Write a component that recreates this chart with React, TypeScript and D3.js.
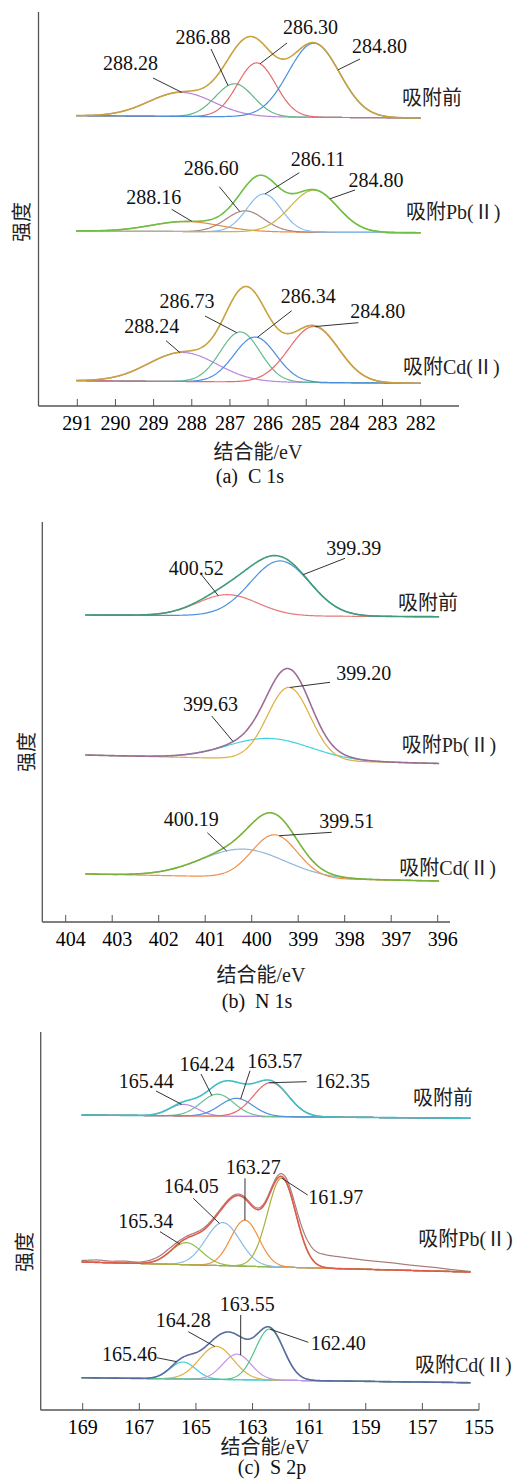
import React from 'react';
import * as d3 from 'd3';

// tick labels (binding energy, eV)
const c1sTicks = [291, 290, 289, 288, 287, 286, 285, 284, 283, 282];
const n1sTicks = [404, 403, 402, 401, 400, 399, 398, 397, 396];
const s2pTicks = [169, 167, 165, 163, 161, 159, 157, 155];

const sampleNames = ['吸附前', '吸附Pb(Ⅱ)', '吸附Cd(Ⅱ)'];

// fitted peaks: [center eV, height, sigma eV]
const c1sBefore = [[288.28, 24, 0.85], [286.88, 33, 0.5], [286.30, 54, 0.5], [284.80, 74, 0.67]];
const c1sPb = [[288.16, 10, 0.9], [286.60, 21, 0.5], [286.11, 38, 0.45], [284.80, 42, 0.62]];
const c1sCd = [[288.24, 29, 0.9], [286.73, 50, 0.52], [286.34, 45, 0.55], [284.80, 56, 0.65]];

const n1sBefore = [[400.52, 21, 0.65], [399.39, 55, 0.64]];
const n1sPb = [[399.63, 21, 0.9], [399.20, 72.5, 0.46]];
const n1sCd = [[400.19, 28, 0.9], [399.51, 43, 0.49]];

const s2pBefore = [[165.44, 11.5, 0.5], [164.24, 22, 0.58], [163.57, 18, 0.58], [162.35, 34, 0.62]];
const s2pPb = [[165.34, 22, 0.55], [164.05, 43, 0.6], [163.27, 46, 0.5], [161.97, 89, 0.5]];
const s2pCd = [[165.46, 17, 0.45], [164.28, 33, 0.6], [163.55, 25.5, 0.5], [162.40, 51, 0.5]];

// measured S 2p (Pb) signal above the fit: [eV, extra]
const s2pPbResidual = [
  [169.05, 1.5], [168.5, 2.5], [168, 1.5], [167.5, 2], [167, 1], [166.5, 2.5], [166, 3.5],
  [165.5, 2], [165, 2], [164, 1.5], [163, 1.5], [162.3, 2], [161.9, 3], [161.5, 6],
  [161, 11], [160.5, 13], [160, 12], [159.5, 10.5], [159, 9], [158.5, 8], [158, 7],
  [157.5, 5.5], [157, 4.5], [156.5, 3.5], [156, 2], [155.3, 0.5],
];

const FONT = "'Liberation Serif', 'Times New Roman', 'Noto Sans CJK SC', serif";

const gauss = (e: number, p: number[]) => p[1] * Math.exp(-0.5 * ((e - p[0]) / p[2]) ** 2);

const panels = [
  {
    ticks: c1sTicks, tickRange: [77.3, 420.7], scan: [291.03, 282.0],
    axisX: 38.5, axisTop: 12, axisBottom: 406, axisRight: 459, tickDx: 0,
    yTitle: [22, 222], xTitleY: 452, xTitleX: 258, caption: '(a)  C 1s', captionX: 250, captionY: 477,
    spectra: [
      {
        peaks: c1sBefore, offsets: [290.3, 288], colors: ['#b985d6', '#62b985', '#e66a6a', '#4b8fdc'], env: '#c8a23c',
        label: [402, 98],
        notes: [
          { text: '288.28', lx: 130.5, ly: 63, sx: 153, sy: 78, e: 288.26, on: 0 },
          { text: '286.88', lx: 203, ly: 37, sx: 211, sy: 49, e: 287.05, on: 1 },
          { text: '286.30', lx: 310.5, ly: 27, sx: 287, sy: 43, e: 286.21, on: 2 },
          { text: '284.80', lx: 379.5, ly: 46, sx: 360, sy: 59, e: 284.17, on: -1 },
        ],
      },
      {
        peaks: c1sPb, offsets: [175, 173.3], colors: ['#f08a3c', '#a98580', '#8bbce6', '#c8b548'], env: '#6cc045',
        label: [406, 212],
        notes: [
          { text: '288.16', lx: 153.8, ly: 197.3, sx: 171.7, sy: 209.3, e: 288.0, on: -1 },
          { text: '286.60', lx: 211.3, ly: 168.3, sx: 219.3, sy: 186.7, e: 286.74, on: 1 },
          { text: '286.11', lx: 318, ly: 159.3, sx: 299.3, sy: 172.7, e: 286.08, on: 2 },
          { text: '284.80', lx: 376, ly: 180.7, sx: 355, sy: 190, e: 284.38, on: -1 },
        ],
      },
      {
        peaks: c1sCd, offsets: [25.3, 22.7], colors: ['#b88ae0', '#62bd88', '#4b8fdc', '#e66a6a'], env: '#c8a23c',
        label: [403, 367],
        notes: [
          { text: '288.24', lx: 151.8, ly: 326.7, sx: 166, sy: 340.7, e: 288.31, on: 0 },
          { text: '286.73', lx: 187, ly: 301.7, sx: 205, sy: 316, e: 286.82, on: 1 },
          { text: '286.34', lx: 308.3, ly: 296.7, sx: 291.7, sy: 310.7, e: 286.28, on: 2 },
          { text: '284.80', lx: 377.8, ly: 311.7, sx: 358.3, sy: 322.7, e: 284.77, on: 3 },
        ],
      },
    ],
  },
  {
    ticks: n1sTicks, tickRange: [65.7, 437.7], scan: [403.58, 395.97],
    axisX: 42.3, axisTop: 522, axisBottom: 922, axisRight: 450, tickDx: 5,
    yTitle: [26.7, 752], xTitleY: 975, xTitleX: 261, caption: '(b)  N 1s', captionX: 257, captionY: 1002,
    spectra: [
      {
        peaks: n1sBefore, offsets: [307, 305.3], colors: ['#e87878', '#4b90e0'], env: '#3f9c78',
        label: [398, 603],
        notes: [
          { text: '400.52', lx: 196.3, ly: 568.3, sx: 201.7, sy: 575, e: 400.72, on: 0 },
          { text: '399.39', lx: 353.7, ly: 548.3, sx: 345, sy: 558.3, e: 398.89, on: -1 },
        ],
      },
      {
        peaks: n1sPb, offsets: [167, 158.5], colors: ['#40d4dc', '#dcb040'], env: '#9c6d98',
        label: [401.7, 745],
        notes: [
          { text: '399.63', lx: 210.5, ly: 704, sx: 211.7, sy: 716, e: 400.4, on: -1 },
          { text: '399.20', lx: 363.8, ly: 673.3, sx: 330, sy: 682.3, e: 399.18, on: 1 },
        ],
      },
      {
        peaks: n1sCd, offsets: [48, 41], colors: ['#8fb8dc', '#f0904c'], env: '#78b236',
        label: [399.3, 868.3],
        notes: [
          { text: '400.19', lx: 191.3, ly: 819.3, sx: 207.3, sy: 832.7, e: 400.54, on: 0 },
          { text: '399.51', lx: 346.7, ly: 821.7, sx: 331.7, sy: 832.3, e: 399.41, on: 1 },
        ],
      },
    ],
  },
  {
    ticks: s2pTicks, tickRange: [82.7, 479], scan: [169.04, 155.3],
    axisX: 40.7, axisTop: 1032, axisBottom: 1410, axisRight: 479, tickDx: 0,
    yTitle: [25, 1252], xTitleY: 1447, xTitleX: 265, caption: '(c)  S 2p', captionX: 272, captionY: 1468,
    spectra: [
      {
        peaks: s2pBefore, offsets: [295, 291.7], colors: ['#b889dc', '#6cc090', '#5090e0', '#e86868'], env: '#3fbfc4',
        bg: '#d4b070', label: [413, 1097.7],
        notes: [
          { text: '165.44', lx: 146.2, ly: 1081, sx: 156, sy: 1091, e: 165.5, on: 0 },
          { text: '164.24', lx: 207, ly: 1064, sx: 201, sy: 1074, e: 164.44, on: 1 },
          { text: '163.57', lx: 274.7, ly: 1061, sx: 250, sy: 1070.7, e: 163.42, on: 2 },
          { text: '162.35', lx: 342.5, ly: 1081, sx: 306.7, sy: 1081.7, e: 162.41, on: 3 },
        ],
      },
      {
        peaks: s2pPb, offsets: [148, 138], colors: ['#8fc048', '#8bbce6', '#f0903c', '#a8b040'], env: '#e05a4c',
        bg: '#6d7a5c', raw: '#a87b7b', label: [418.3, 1239],
        notes: [
          { text: '165.34', lx: 145.8, ly: 1221, sx: 160, sy: 1231.7, e: 165.56, on: 0 },
          { text: '164.05', lx: 191.2, ly: 1186.7, sx: 193.3, sy: 1198.3, e: 164.17, on: 1 },
          { text: '163.27', lx: 253.3, ly: 1167.7, sx: 245, sy: 1178.3, e: 163.27, on: 2 },
          { text: '161.97', lx: 335.7, ly: 1197.3, sx: 307.7, sy: 1195, e: 161.97, on: 3 },
        ],
      },
      {
        peaks: s2pCd, offsets: [32.3, 27.3], colors: ['#40d0da', '#e0b040', '#c495e4', '#52c488'], env: '#5a6b9e',
        bg: '#48cfc0', label: [415, 1365],
        notes: [
          { text: '165.46', lx: 129.5, ly: 1354, sx: 156.7, sy: 1357.7, e: 165.68, on: -1 },
          { text: '164.28', lx: 183.3, ly: 1320.7, sx: 188.3, sy: 1331.7, e: 164.33, on: 1 },
          { text: '163.55', lx: 247.2, ly: 1304, sx: 240.7, sy: 1315, e: 163.42, on: 2 },
          { text: '162.40', lx: 338.3, ly: 1343.3, sx: 308.3, sy: 1342.3, e: 162.38, on: 3 },
        ],
      },
    ],
  },
];

const Panel = ({ p }: { p: any }) => {
  const x = d3.scaleLinear().domain([p.ticks[0], p.ticks[p.ticks.length - 1]]).range(p.tickRange);
  const y = d3.scaleLinear().domain([0, 400]).range([p.axisBottom, p.axisBottom - 400]);
  const energies = d3.range(p.scan[0], p.scan[1], -0.02).concat([p.scan[1]]);
  const residual = d3.scaleLinear()
    .domain(s2pPbResidual.map(d => d[0]))
    .range(s2pPbResidual.map(d => d[1]))
    .clamp(true);

  return (
    <g>
      <line x1={p.axisX} x2={p.axisX} y1={p.axisTop} y2={p.axisBottom} stroke="#555" strokeWidth={1.3} />
      <line x1={p.axisX} x2={p.axisRight} y1={p.axisBottom} y2={p.axisBottom} stroke="#555" strokeWidth={1.3} />
      {p.ticks.map((t: number) => (
        <g key={t}>
          <line x1={x(t)} x2={x(t)} y1={p.axisBottom} y2={p.axisBottom - 7} stroke="#555" strokeWidth={1} />
          <text x={x(t) + p.tickDx} y={p.axisBottom + 17} dy="0.33em" textAnchor="middle" fontSize={20}>{t}</text>
        </g>
      ))}
      <text transform={`translate(${p.yTitle[0]},${p.yTitle[1]}) rotate(-90)`} textAnchor="middle" dy="0.35em" fontSize={20} fill="#222">强度</text>
      <text x={p.xTitleX} y={p.xTitleY} dy="0.35em" textAnchor="middle" fontSize={20} fill="#222">结合能/eV</text>
      <text x={p.captionX} y={p.captionY} dy="0.32em" textAnchor="middle" fontSize={20} fill="#111" style={{ whiteSpace: 'pre' }}>{p.caption}</text>

      {p.spectra.map((s: any, si: number) => {
        const bg = d3.scaleLinear().domain(p.scan).range(s.offsets);
        const env = (e: number) => bg(e) + d3.sum(s.peaks, (pk: number[]) => gauss(e, pk));
        const curveAt = (on: number) => (on < 0 ? env : (e: number) => bg(e) + gauss(e, s.peaks[on]));
        const line = (f: (e: number) => number) => d3.line<number>().x(e => x(e)).y(e => y(f(e)))(energies) || '';
        return (
          <g key={si}>
            {s.bg && <path d={line(bg)} fill="none" stroke={s.bg} strokeWidth={1.2} />}
            {s.peaks.map((pk: number[], k: number) => (
              <path key={k} d={line(curveAt(k))} fill="none" stroke={s.colors[k]} strokeWidth={1.2} />
            ))}
            {s.raw && <path d={line(e => env(e) + residual(e))} fill="none" stroke={s.raw} strokeWidth={1.2} />}
            <path d={line(env)} fill="none" stroke={s.env} strokeWidth={1.6} />
            {s.notes.map((n: any) => (
              <g key={n.text}>
                <line x1={n.sx} y1={n.sy} x2={x(n.e)} y2={y(curveAt(n.on)(n.e))} stroke="#333" strokeWidth={1} />
                <text x={n.lx} y={n.ly} dy="0.33em" textAnchor="middle" fontSize={20} fill="#111">{n.text}</text>
              </g>
            ))}
            <text x={s.label[0]} y={s.label[1]} dy="0.35em" fontSize={20} fill="#222">{sampleNames[si]}</text>
          </g>
        );
      })}
    </g>
  );
};

export default function App() {
  return (
    <svg width={518} height={1481} style={{ position: 'absolute', left: 0, top: 0, background: '#fff' }} fontFamily={FONT}>
      <rect width={518} height={1481} fill="#fff" />
      {panels.map((p, i) => <Panel key={i} p={p} />)}
    </svg>
  );
}
